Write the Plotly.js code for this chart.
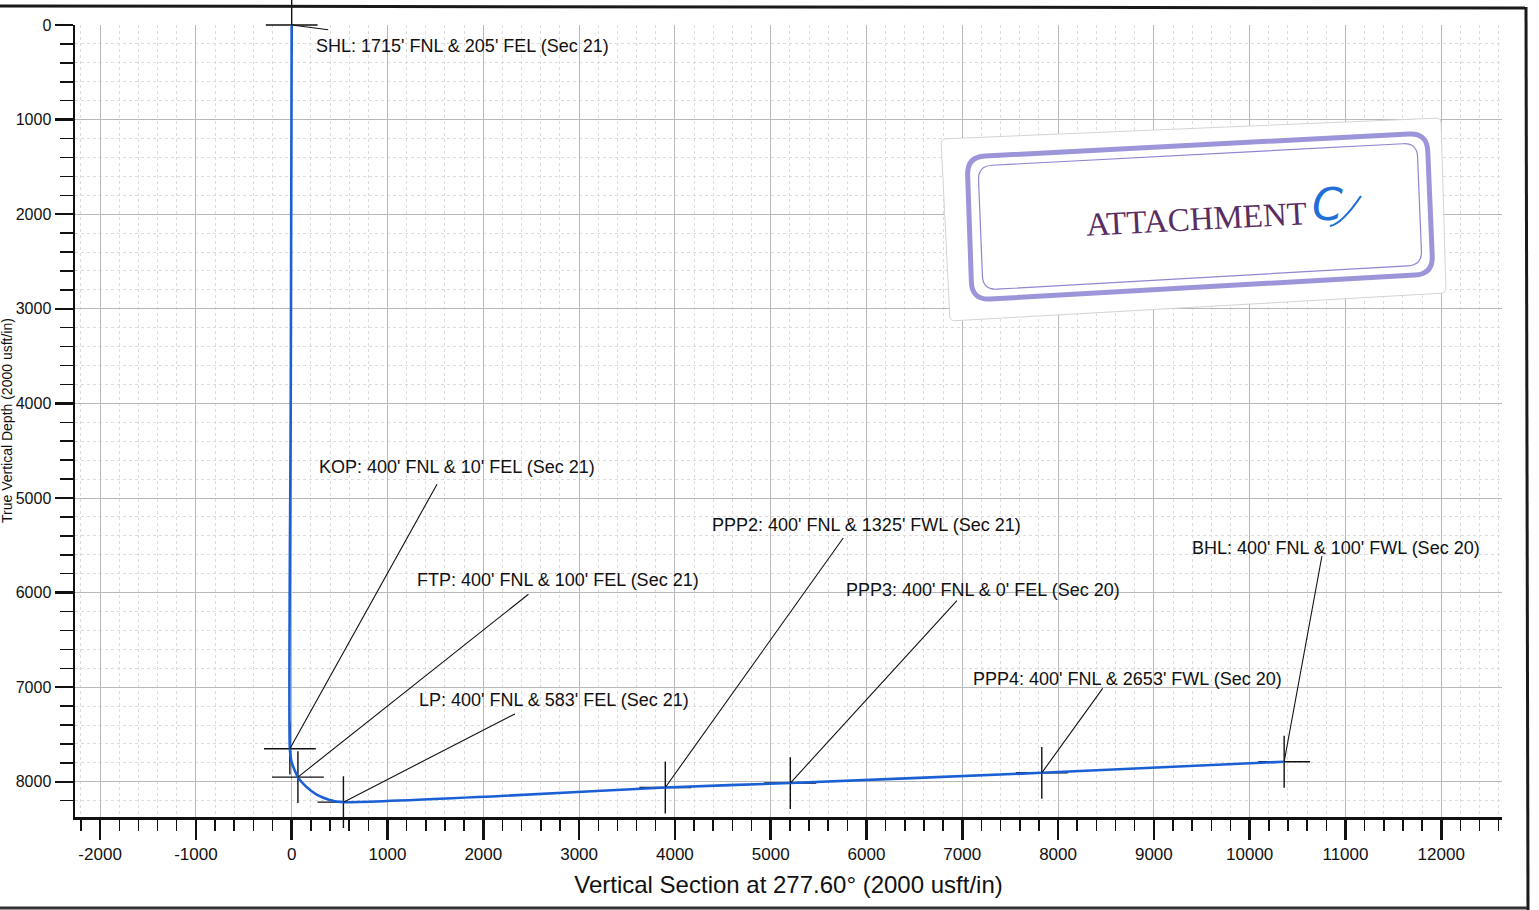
<!DOCTYPE html>
<html>
<head>
<meta charset="utf-8">
<script src="https://cdn.plot.ly/plotly-3.0.1.min.js"></script>
<style>
  html, body { margin: 0; padding: 0; background: #ffffff; }
  #chart { width: 1539px; height: 910px; }
</style>
</head>
<body>
<div id="chart"></div>
<script>
// ---------------- DATA ----------------
// Well path (Vertical Section, True Vertical Depth), usft
const pathVS  = [0, -10, -19, 0, 65, 145, 261, 396, 540, 2180, 3900, 5205, 7830, 10360];
const pathTVD = [0, 4000, 7650, 7795, 7950, 8046, 8135, 8191, 8215, 8150, 8060, 8013, 7905, 7788];

// Key points
const pointNames = ["SHL", "KOP", "FTP", "LP", "PPP2", "PPP3", "PPP4", "BHL"];
const pointVS    = [0, -19, 65, 540, 3900, 5205, 7830, 10360];
const pointTVD   = [0, 7650, 7950, 8215, 8060, 8013, 7905, 7788];
const pointLabels = [
  "SHL: 1715' FNL & 205' FEL (Sec 21)",
  "KOP: 400' FNL & 10' FEL (Sec 21)",
  "FTP: 400' FNL & 100' FEL (Sec 21)",
  "LP: 400' FNL & 583' FEL (Sec 21)",
  "PPP2: 400' FNL & 1325' FWL (Sec 21)",
  "PPP3: 400' FNL & 0' FEL (Sec 20)",
  "PPP4: 400' FNL & 2653' FWL (Sec 20)",
  "BHL: 400' FNL & 100' FWL (Sec 20)"
];

// Tick labels
const xTickVals = [-2000, -1000, 0, 1000, 2000, 3000, 4000, 5000, 6000, 7000, 8000, 9000, 10000, 11000, 12000];
const xTickText = ["-2000", "-1000", "0", "1000", "2000", "3000", "4000", "5000", "6000", "7000", "8000", "9000", "10000", "11000", "12000"];
const yTickVals = [0, 1000, 2000, 3000, 4000, 5000, 6000, 7000, 8000];
const yTickText = ["0", "1000", "2000", "3000", "4000", "5000", "6000", "7000", "8000"];

const xTitle = "Vertical Section at 277.60\u00B0 (2000 usft/in)";
const yTitle = "True Vertical Depth (2000 usft/in)";
const stampText = "ATTACHMENT";
const stampLetter = "C";

// ---------------- LAYOUT GEOMETRY ----------------
const W = 1539, H = 910;
const M = { l: 75, r: 37, t: 25, b: 93 };
const PW = W - M.l - M.r, PH = H - M.t - M.b;
const xRange = [-2262, 12634];
const yRange = [8372, 0];

function pxX(px) { return xRange[0] + (px - M.l) / PW * (xRange[1] - xRange[0]); }
function pxY(py) { return (py - M.t) / PH * yRange[0]; }
function paperX(px) { return (px - M.l) / PW; }
function paperY(py) { return (M.t + PH - py) / PH; }
function pt(p) { return paperX(p[0]).toFixed(5) + "," + paperY(p[1]).toFixed(5); }

// label placement (left x, centre y in page pixels) and leader tail offsets (px)
const labelPos = [
  [314, 46], [317, 467], [415, 580], [417, 700],
  [710, 525], [844, 590], [971, 679], [1190, 548]
];
const leaderOff = [
  [38, 5], [148, -266], [232, -184], [173, -89],
  [179, -251], [168, -184], [62, -86], [38, -207]
];

function roundedPath(c, r) {
  let s = "";
  for (let i = 0; i < 4; i++) {
    const prev = c[(i + 3) % 4], cur = c[i], next = c[(i + 1) % 4];
    const d1x = prev[0] - cur[0], d1y = prev[1] - cur[1];
    const l1 = Math.hypot(d1x, d1y);
    const d2x = next[0] - cur[0], d2y = next[1] - cur[1];
    const l2 = Math.hypot(d2x, d2y);
    const a = [cur[0] + d1x / l1 * r, cur[1] + d1y / l1 * r];
    const b = [cur[0] + d2x / l2 * r, cur[1] + d2y / l2 * r];
    s += (i === 0 ? "M" : "L") + pt(a) + " Q" + pt(cur) + " " + pt(b) + " ";
  }
  return s + "Z";
}

const shapes = [];
// scanned page frame
shapes.push({ type: "line", xref: "paper", yref: "paper", x0: paperX(0), x1: paperX(1527), y0: paperY(6), y1: paperY(8), line: { color: "#1a1a1a", width: 3 } });
shapes.push({ type: "line", xref: "paper", yref: "paper", x0: paperX(1526), x1: paperX(1528), y0: paperY(7), y1: paperY(910), line: { color: "#1a1a1a", width: 3 } });
shapes.push({ type: "line", xref: "paper", yref: "paper", x0: paperX(0), x1: paperX(1527), y0: paperY(908), y1: paperY(908), line: { color: "#333333", width: 3 } });
// sticker
shapes.push({ type: "path", xref: "paper", yref: "paper", layer: "above",
  path: roundedPath([[941, 139], [1441, 118], [1446, 293], [950, 321]], 5),
  fillcolor: "#ffffff", line: { color: "#d4d4d4", width: 1 } });
shapes.push({ type: "path", xref: "paper", yref: "paper", layer: "above",
  path: roundedPath([[967, 157], [1427, 133], [1433, 274], [972, 300]], 18),
  line: { color: "#9d95d9", width: 5 } });
shapes.push({ type: "path", xref: "paper", yref: "paper", layer: "above",
  path: roundedPath([[978, 166], [1417, 143], [1422, 265], [983, 290]], 14),
  line: { color: "#8f86d2", width: 1.2 } });
// tail of the handwritten letter
shapes.push({ type: "path", xref: "paper", yref: "paper", layer: "above",
  path: "M" + pt([1330, 226]) + " Q" + pt([1342, 224]) + " " + pt([1361, 196]),
  line: { color: "#1f6fd6", width: 2.2 } });

const annotations = [];
for (let i = 0; i < pointNames.length; i++) {
  annotations.push({
    x: pointVS[i], y: pointTVD[i], xref: "x", yref: "y",
    ax: leaderOff[i][0], ay: leaderOff[i][1], axref: "pixel", ayref: "pixel",
    text: "", showarrow: true, arrowhead: 0, arrowwidth: 1.1, arrowcolor: "#111111", standoff: 0
  });
  annotations.push({
    x: pxX(labelPos[i][0]), y: pxY(labelPos[i][1]), xref: "x", yref: "y",
    xanchor: "left", yanchor: "middle", showarrow: false,
    text: pointLabels[i],
    font: { family: "Liberation Sans, Arial, sans-serif", size: 18, color: "#111111" }
  });
}
annotations.push({
  xref: "paper", yref: "paper", x: paperX(1196), y: paperY(219),
  xanchor: "center", yanchor: "middle", showarrow: false, textangle: -3,
  text: stampText,
  font: { family: "Liberation Serif, Times New Roman, serif", size: 33, color: "#5a2d62" }
});
annotations.push({
  xref: "paper", yref: "paper", x: paperX(1327), y: paperY(204),
  xanchor: "center", yanchor: "middle", showarrow: false,
  text: "<i>" + stampLetter + "</i>",
  font: { family: "DejaVu Sans, sans-serif", size: 44, color: "#1f6fd6" }
});

const titleFont = { family: "Liberation Sans, Arial, sans-serif", size: 24, color: "#111111" };
// y axis title, kept at the far left edge of the page as on the scan
annotations.push({
  xref: "paper", yref: "paper", x: paperX(7), y: paperY(421),
  xanchor: "center", yanchor: "middle", showarrow: false, textangle: -90,
  text: yTitle,
  font: { family: "Liberation Sans, Arial, sans-serif", size: 14, color: "#111111" }
});

const traces = [
  {
    x: pointVS, y: pointTVD, type: "scatter", mode: "markers",
    marker: { symbol: "cross-thin", size: 37, color: "#111111", line: { color: "#111111", width: 1.4 } },
    cliponaxis: false, hoverinfo: "text", text: pointNames, showlegend: false
  },
  {
    x: pathVS, y: pathTVD, type: "scatter", mode: "lines",
    line: { color: "#1a5fd4", width: 2.6, shape: "spline", smoothing: 0.6 },
    cliponaxis: false, showlegend: false
  }
];

const axisFont = { family: "Liberation Sans, Arial, sans-serif", size: 17, color: "#111111" };
const yAxisFont = { family: "Liberation Sans, Arial, sans-serif", size: 16, color: "#111111" };

const layout = {
  width: W, height: H,
  margin: M,
  paper_bgcolor: "#ffffff", plot_bgcolor: "#ffffff",
  showlegend: false,
  xaxis: {
    range: xRange, tickmode: "array", tickvals: xTickVals, ticktext: xTickText,
    ticks: "outside", ticklen: 20, tickwidth: 2.5, tickcolor: "#111111",
    showline: true, linecolor: "#111111", linewidth: 2.5,
    showgrid: true, gridcolor: "#b8b8b8", gridwidth: 1,
    zeroline: false, tickfont: axisFont,
    minor: { dtick: 200, tick0: 0, ticks: "outside", ticklen: 11, tickwidth: 1.5, tickcolor: "#111111",
             showgrid: true, gridcolor: "#dcdcdc", griddash: "dot", gridwidth: 1 },
    title: { text: xTitle, standoff: 14, font: titleFont }
  },
  yaxis: {
    range: yRange, tickmode: "array", tickvals: yTickVals, ticktext: yTickText,
    ticks: "outside", ticklen: 18, tickwidth: 2.5, tickcolor: "#111111",
    showline: true, linecolor: "#111111", linewidth: 2.5,
    showgrid: true, gridcolor: "#b8b8b8", gridwidth: 1,
    zeroline: false, tickfont: yAxisFont,
    minor: { dtick: 200, tick0: 0, ticks: "outside", ticklen: 13, tickwidth: 1.5, tickcolor: "#111111",
             showgrid: true, gridcolor: "#dcdcdc", griddash: "dot", gridwidth: 1 },
    title: { text: "" }
  },
  shapes: shapes,
  annotations: annotations
};

Plotly.newPlot("chart", traces, layout, { displayModeBar: false, staticPlot: true });
</script>
</body>
</html>
